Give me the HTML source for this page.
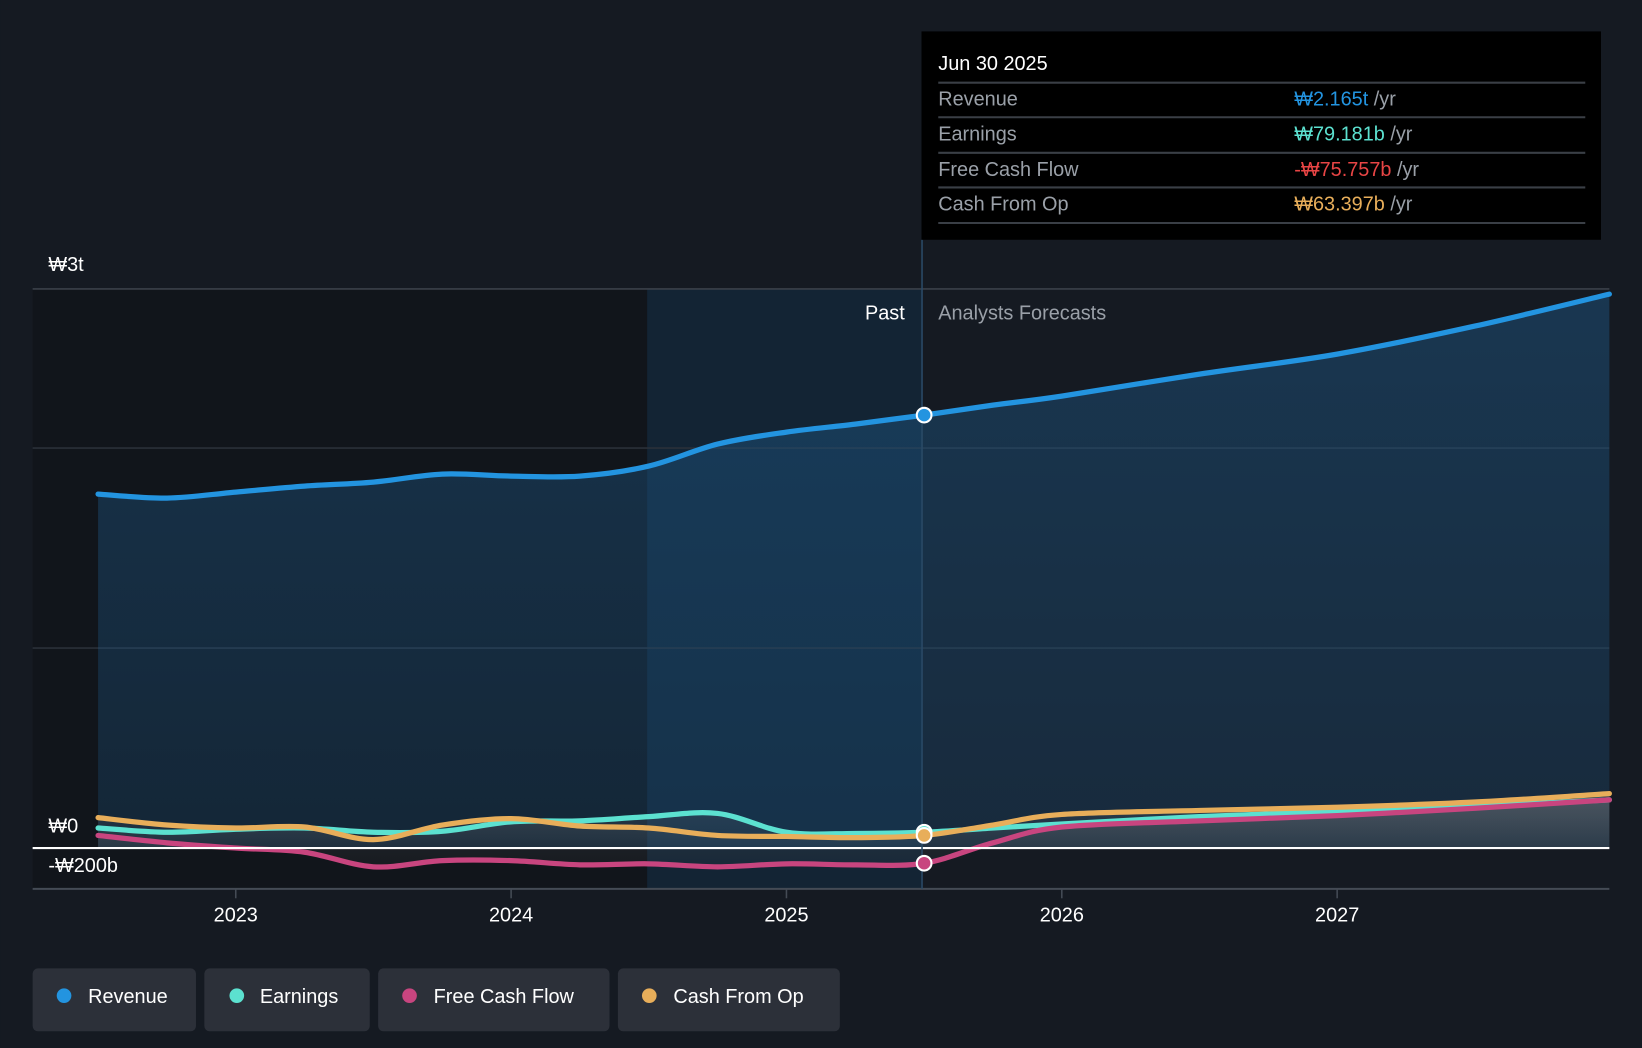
<!DOCTYPE html>
<html><head><meta charset="utf-8">
<style>
html,body{margin:0;padding:0;background:#151a22;}
svg{display:block;font-family:"Liberation Sans","Noto Sans CJK KR",sans-serif;}
</style></head>
<body>
<svg id="chart" width="1642" height="1048" viewBox="0 0 1568 1001" xmlns="http://www.w3.org/2000/svg">
<defs>
<linearGradient id="revFill" x1="0" y1="0" x2="0" y2="1">
<stop offset="0" stop-color="#1e5a8a" stop-opacity="0.45"/>
<stop offset="1" stop-color="#1e5a8a" stop-opacity="0.25"/>
</linearGradient>
<linearGradient id="lowFill" x1="0" y1="0" x2="0" y2="1">
<stop offset="0" stop-color="#8a8a8a" stop-opacity="0.35"/>
<stop offset="1" stop-color="#8a8a8a" stop-opacity="0.1"/>
</linearGradient>
</defs>
<rect x="0" y="0" width="1568" height="1001" fill="#151a22"/>
<rect x="31" y="276" width="587" height="573" fill="#11151b"/>
<rect x="618" y="276" width="262" height="573" fill="#13273a" opacity="0.8"/>
<g id="grid"></g>
<g id="areas"></g>
<g id="lines"></g>
<line x1="31" x2="1537" y1="810" y2="810" stroke="#ffffff" stroke-width="2"/>
<line x1="31" x2="1537" y1="849" y2="849" stroke="#444b55" stroke-width="2"/>
<line x1="880.5" x2="880.5" y1="229" y2="849" stroke="#2a4a66" stroke-width="1.5"/>
<text x="46" y="259" fill="#fff" font-size="19">₩3t</text>
<text x="46" y="795" fill="#fff" font-size="19">₩0</text>
<text x="46" y="833" fill="#fff" font-size="19">-₩200b</text>
<text x="864" y="305" fill="#fff" font-size="19" text-anchor="end">Past</text>
<text x="896" y="305" fill="#9aa0a8" font-size="19">Analysts Forecasts</text>
<g id="xaxis"></g>
<g id="dots"></g>
<g>
<rect x="880" y="30" width="649" height="199" fill="#000"/>
<text x="896" y="67" fill="#fff" font-size="19">Jun 30 2025</text>
<g stroke="#3a3f46" stroke-width="2">
<line x1="896" x2="1514" y1="79" y2="79"/><line x1="896" x2="1514" y1="112" y2="112"/>
<line x1="896" x2="1514" y1="146" y2="146"/><line x1="896" x2="1514" y1="179" y2="179"/>
<line x1="896" x2="1514" y1="213" y2="213"/></g>
<g font-size="19" fill="#9aa0a8">
<text x="896" y="101">Revenue</text><text x="896" y="134">Earnings</text>
<text x="896" y="168">Free Cash Flow</text><text x="896" y="201">Cash From Op</text>
<text x="1236" y="101"><tspan fill="#2394e0">₩2.165t</tspan> /yr</text>
<text x="1236" y="134"><tspan fill="#5ce1d0">₩79.181b</tspan> /yr</text>
<text x="1236" y="168"><tspan fill="#e84545">-₩75.757b</tspan> /yr</text>
<text x="1236" y="201"><tspan fill="#e8ae5a">₩63.397b</tspan> /yr</text>
</g></g>
<g font-size="19" fill="#fff">
<g><rect x="31" y="925" width="156" height="60" rx="5" fill="#2c3039"/><circle cx="61" cy="951" r="7" fill="#2394e0"/><text x="84" y="958" fill="#fff">Revenue</text></g>
<g><rect x="195" y="925" width="158" height="60" rx="5" fill="#2c3039"/><circle cx="226" cy="951" r="7" fill="#5ce1d0"/><text x="248" y="958" fill="#fff">Earnings</text></g>
<g><rect x="361" y="925" width="221" height="60" rx="5" fill="#2c3039"/><circle cx="391" cy="951" r="7" fill="#c8457f"/><text x="414" y="958" fill="#fff">Free Cash Flow</text></g>
<g><rect x="590" y="925" width="212" height="60" rx="5" fill="#2c3039"/><circle cx="620" cy="951" r="7" fill="#e8ae5a"/><text x="643" y="958" fill="#fff">Cash From Op</text></g>
</g>
</svg>
<script>
const years = [2022.5,2022.75,2023,2023.25,2023.5,2023.75,2024,2024.25,2024.5,2024.75,2025,2025.25,2025.5,2025.75,2026,2026.5,2027,2027.5,2028];
const revenue = [1770,1750,1780,1810,1830,1870,1860,1860,1910,2020,2080,2120,2165,2215,2260,2370,2470,2610,2770];
const earnings = [100,79,94,100,79,84,131,136,157,173,79,73,79,100,120,157,183,209,241];
const fcf = [63,26,0,-21,-94,-63,-63,-84,-79,-94,-79,-84,-76,26,105,136,162,199,241];
const cfo = [152,115,100,105,42,115,147,110,100,63,58,52,63,115,168,188,204,230,272];
const tickYears = [2023,2024,2025,2026,2027];
const tickLabels = ["2023","2024","2025","2026","2027"];
const gridValues = [1000,2000];
const NS="http://www.w3.org/2000/svg";
const X = t => 751 + 263*(t-2025);
const Y = v => 810 - 0.191*v;
function pts(vals){return years.map((t,i)=>[Math.min(X(t),1537),Y(vals[i])]);}
function smooth(p){let d="M"+p[0][0]+","+p[0][1];for(let i=0;i<p.length-1;i++){const p0=p[i-1]||p[i],p1=p[i],p2=p[i+1],p3=p[i+2]||p2;const c1=[p1[0]+(p2[0]-p0[0])/6,p1[1]+(p2[1]-p0[1])/6],c2=[p2[0]-(p3[0]-p1[0])/6,p2[1]-(p3[1]-p1[1])/6];d+=` C${c1[0]},${c1[1]} ${c2[0]},${c2[1]} ${p2[0]},${p2[1]}`;}return d;}
function el(tag,attrs,parent){const e=document.createElementNS(NS,tag);for(const k in attrs)e.setAttribute(k,attrs[k]);document.getElementById(parent).appendChild(e);return e;}
gridValues.forEach(v=>{const l=el('line',{x1:31,x2:1537,y1:Y(v)-(v==1000?0:0),y2:Y(v),stroke:'#2a3039','stroke-width':1.5},'grid');

});
el('line',{x1:31,x2:1537,y1:276,y2:276,stroke:'#3a4049','stroke-width':1.5},'grid');
const series=[["revenue",revenue,"#2394e0"],["earnings",earnings,"#5ce1d0"],["free-cash-flow",fcf,"#c8457f"],["cash-from-op",cfo,"#e8ae5a"]];
series.forEach(([name,vals,col],si)=>{const p=pts(vals);const d=smooth(p);
const a=el('path',{d:d+` L${p[p.length-1][0]},810 L${p[0][0]},810 Z`,fill:si==0?'url(#revFill)':'url(#lowFill)',opacity:si==0?1:0.5},'areas');


const l=el('path',{d:d,fill:'none',stroke:col,'stroke-width':5,'stroke-linecap':'round'},'lines');


const idx=years.indexOf(2025.5);
const c=el('circle',{cx:X(2025.5),cy:Y(vals[idx]),r:7,fill:col,stroke:'#fff','stroke-width':2},'dots');

});
tickYears.forEach((t,i)=>{const tk=el('line',{x1:X(t),x2:X(t),y1:849,y2:858,stroke:'#444b55','stroke-width':1.5},'xaxis');


const tx=el('text',{x:X(t),y:880,fill:'#fff','font-size':19,'text-anchor':'middle'},'xaxis');tx.textContent=tickLabels[i];

});
</script>
</body></html>
